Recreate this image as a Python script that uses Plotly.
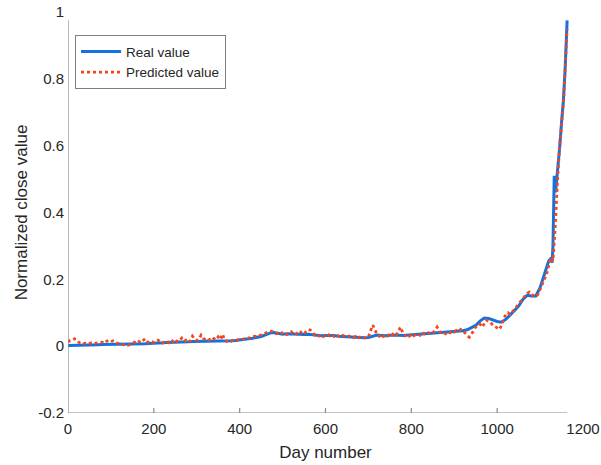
import plotly.graph_objects as go

# Real (normalized) close value by day
days_real = [0, 10, 20, 30, 40, 50, 60, 70, 80, 90, 100, 110, 120, 130, 140, 150, 160, 170, 180, 190,
             200, 210, 220, 230, 240, 250, 260, 270, 280, 290, 300, 310, 320, 330, 340, 350, 360, 370, 380, 390,
             400, 410, 420, 430, 440, 450, 460, 470, 480, 490, 500, 510, 520, 530, 540, 550, 560, 570, 580, 590,
             600, 610, 620, 630, 640, 650, 660, 670, 680, 690, 700, 710, 720, 730, 740, 750, 760, 770, 780, 790,
             800, 810, 820, 830, 840, 850, 860, 870, 880, 890, 900, 910, 920, 930, 940, 950, 960, 970, 980, 990,
             1000, 1010, 1020, 1030, 1040, 1050, 1060, 1070, 1080, 1090, 1100, 1110, 1120, 1125, 1128, 1130,
             1131, 1133, 1136, 1139, 1142, 1146, 1150, 1154, 1158, 1161, 1163]
real_vals = [0.002, 0.002, 0.003, 0.003, 0.003, 0.004, 0.004, 0.004, 0.005, 0.005,
             0.005, 0.005, 0.006, 0.006, 0.005, 0.005, 0.006, 0.007, 0.007, 0.008,
             0.008, 0.009, 0.010, 0.011, 0.011, 0.012, 0.012, 0.013, 0.013, 0.014,
             0.014, 0.015, 0.015, 0.016, 0.016, 0.016, 0.016, 0.015, 0.016, 0.017,
             0.018, 0.020, 0.022, 0.024, 0.026, 0.029, 0.034, 0.039, 0.041, 0.038,
             0.036, 0.037, 0.036, 0.035, 0.036, 0.035, 0.036, 0.034, 0.032, 0.031,
             0.032, 0.033, 0.032, 0.030, 0.029, 0.028, 0.027, 0.027, 0.026, 0.025,
             0.026, 0.030, 0.033, 0.032, 0.031, 0.033, 0.034, 0.033, 0.032, 0.033,
             0.034, 0.035, 0.036, 0.036, 0.037, 0.038, 0.039, 0.040, 0.041, 0.042,
             0.043, 0.044, 0.046, 0.049, 0.055, 0.062, 0.075, 0.084, 0.083, 0.078,
             0.074, 0.072, 0.080, 0.093, 0.105, 0.120, 0.140, 0.152, 0.150, 0.150,
             0.175, 0.215, 0.255, 0.262, 0.250, 0.300,
             0.400, 0.510, 0.460, 0.500, 0.550, 0.600, 0.670, 0.730, 0.820, 0.900, 0.975]

# Model prediction, one value every 5 days
days_pred = list(range(0, 1161, 5)) + [1163]
pred_vals = [
    0.012, 0.018, 0.020, 0.022, 0.020, 0.012, 0.008, 0.006, 0.009, 0.007,
    0.008, 0.010, 0.008, 0.009, 0.011, 0.010, 0.012, 0.009, 0.015, 0.017,
    0.013, 0.016, 0.011, 0.009, 0.007, 0.005, 0.004, 0.006, 0.003, 0.005,
    0.007, 0.012, 0.009, 0.014, 0.010, 0.017, 0.022, 0.013, 0.010, 0.014,
    0.011, 0.015, 0.018, 0.012, 0.009, 0.013, 0.016, 0.011, 0.019, 0.014,
    0.020, 0.013, 0.017, 0.024, 0.014, 0.018, 0.012, 0.016, 0.030, 0.022,
    0.017, 0.020, 0.033, 0.024, 0.018, 0.015, 0.020, 0.017, 0.023, 0.019,
    0.028, 0.020, 0.036, 0.018, 0.014, 0.017, 0.015, 0.018, 0.016, 0.019,
    0.021, 0.019, 0.022, 0.025, 0.024, 0.027, 0.028, 0.030, 0.029, 0.031,
    0.033, 0.036, 0.039, 0.042, 0.045, 0.044, 0.041, 0.037, 0.040, 0.043,
    0.038, 0.041, 0.035, 0.039, 0.043, 0.037, 0.034, 0.040, 0.046, 0.038,
    0.036, 0.044, 0.050, 0.048, 0.039, 0.033, 0.035, 0.030, 0.034, 0.029,
    0.033, 0.037, 0.031, 0.035, 0.029, 0.034, 0.031, 0.027, 0.032, 0.030,
    0.026, 0.030, 0.028, 0.025, 0.029, 0.024, 0.027, 0.023, 0.026, 0.024,
    0.028, 0.045, 0.063, 0.050, 0.034, 0.030, 0.036, 0.029, 0.033, 0.030,
    0.038, 0.033, 0.040, 0.034, 0.046, 0.057, 0.040, 0.031, 0.035, 0.030,
    0.036, 0.031, 0.034, 0.038, 0.033, 0.042, 0.037, 0.035, 0.040, 0.036,
    0.038, 0.046, 0.057, 0.044, 0.039, 0.041, 0.037, 0.043, 0.040, 0.045,
    0.042, 0.047, 0.044, 0.050, 0.045, 0.040, 0.032, 0.027, 0.036, 0.048,
    0.057, 0.062, 0.066, 0.057, 0.070, 0.078, 0.074, 0.070, 0.063, 0.058,
    0.055, 0.050, 0.062, 0.078, 0.096, 0.100, 0.095, 0.102, 0.110, 0.115,
    0.125, 0.132, 0.140, 0.150, 0.158, 0.162, 0.155, 0.150, 0.148, 0.155,
    0.170, 0.185, 0.200, 0.215, 0.240, 0.265, 0.255, 0.350, 0.480, 0.590,
    0.660, 0.740, 0.870, 0.950]

x_ticks = [0, 200, 400, 600, 800, 1000, 1200]
y_ticks = [-0.2, 0, 0.2, 0.4, 0.6, 0.8, 1]
y_tick_text = ["-0.2", "0", "0.2", "0.4", "0.6", "0.8", "1"]

X_MIN, X_MAX = 0, 1200
Y_MIN, Y_MAX = -0.2, 1.0

BLUE = "#1372DE"
RED = "#F2461C"
AXIS = "#8A8A8A"
TEXT = "#262626"
FONT = "Liberation Sans, Arial, sans-serif"

fig = go.Figure()
fig.add_trace(go.Scatter(x=days_real, y=real_vals, mode="lines", name="Real value",
                         line=dict(color=BLUE, width=3)))
fig.add_trace(go.Scatter(x=days_pred, y=pred_vals, mode="lines", name="Predicted value",
                         line=dict(color=RED, width=2.8, dash="dot")))

# axis lines end where the data end
x_end = days_real[-1]
y_end = max(real_vals)
shapes = [
    dict(type="line", xref="x", yref="y", x0=X_MIN, x1=x_end, y0=Y_MIN, y1=Y_MIN,
         line=dict(color=AXIS, width=1.2)),
    dict(type="line", xref="x", yref="y", x0=X_MIN, x1=X_MIN, y0=Y_MIN, y1=y_end,
         line=dict(color=AXIS, width=1.2)),
]
tick_len = (Y_MAX - Y_MIN) * 5 / 401
for t in x_ticks:
    if X_MIN < t <= x_end:
        shapes.append(dict(type="line", xref="x", yref="y", x0=t, x1=t,
                           y0=Y_MIN, y1=Y_MIN + tick_len,
                           line=dict(color=AXIS, width=1.2)))

fig.update_layout(
    width=601, height=465,
    margin=dict(l=68, r=18, t=12, b=52),
    paper_bgcolor="white", plot_bgcolor="white",
    font=dict(family=FONT, color=TEXT, size=15),
    showlegend=True,
    legend=dict(x=0.0136, y=0.942, xanchor="left", yanchor="top",
                bgcolor="white", bordercolor="#7F7F7F", borderwidth=1,
                font=dict(size=13.5, color=TEXT), tracegroupgap=0,
                itemwidth=40),
    shapes=shapes,
    xaxis=dict(range=[X_MIN, X_MAX], tickvals=x_ticks, ticks="", showgrid=False,
               zeroline=False, showline=False, automargin=False,
               ticklabelstandoff=5,
               tickfont=dict(size=15, color=TEXT),
               title=dict(text="Day number", font=dict(size=17, color=TEXT), standoff=10)),
    yaxis=dict(range=[Y_MIN, Y_MAX], tickvals=y_ticks, ticktext=y_tick_text, ticks="",
               showgrid=False, zeroline=False, showline=False, automargin=False,
               ticklabelstandoff=3,
               tickfont=dict(size=15, color=TEXT),
               title=dict(text="Normalized close value", font=dict(size=17, color=TEXT), standoff=6)),
)

fig.write_html("out.html", config={"displayModeBar": False})
